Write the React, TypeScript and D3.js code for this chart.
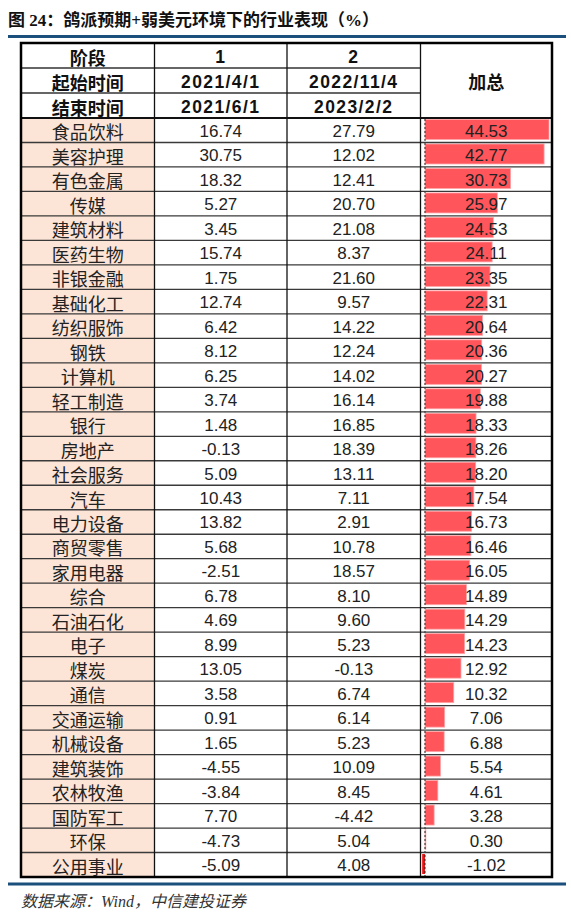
import * as d3 from "d3";

// industry rows, top to bottom
const industries = [
  "食品饮料", "美容护理", "有色金属", "传媒", "建筑材料", "医药生物", "非银金融", "基础化工",
  "纺织服饰", "钢铁", "计算机", "轻工制造", "银行", "房地产", "社会服务", "汽车", "电力设备",
  "商贸零售", "家用电器", "综合", "石油石化", "电子", "煤炭", "通信", "交通运输", "机械设备",
  "建筑装饰", "农林牧渔", "国防军工", "环保", "公用事业",
];
const stage1 = [
  16.74, 30.75, 18.32, 5.27, 3.45, 15.74, 1.75, 12.74, 6.42, 8.12, 6.25, 3.74, 1.48, -0.13, 5.09,
  10.43, 13.82, 5.68, -2.51, 6.78, 4.69, 8.99, 13.05, 3.58, 0.91, 1.65, -4.55, -3.84, 7.7, -4.73, -5.09,
];
const stage2 = [
  27.79, 12.02, 12.41, 20.7, 21.08, 8.37, 21.6, 9.57, 14.22, 12.24, 14.02, 16.14, 16.85, 18.39, 13.11,
  7.11, 2.91, 10.78, 18.57, 8.1, 9.6, 5.23, -0.13, 6.74, 6.14, 5.23, 10.09, 8.45, -4.42, 5.04, 4.08,
];
const totals = [
  44.53, 42.77, 30.73, 25.97, 24.53, 24.11, 23.35, 22.31, 20.64, 20.36, 20.27, 19.88, 18.33, 18.26,
  18.2, 17.54, 16.73, 16.46, 16.05, 14.89, 14.29, 14.23, 12.92, 10.32, 7.06, 6.88, 5.54, 4.61, 3.28,
  0.3, -1.02,
];
const headerRows = [
  ["阶段", "1", "2"],
  ["起始时间", "2021/4/1", "2022/11/4"],
  ["结束时间", "2021/6/1", "2023/2/2"],
];
const totalHeader = "加总";
const title = "图 24：鸽派预期+弱美元环境下的行业表现（%）";
const source = "数据来源：Wind，中信建投证券";

const W = 571, H = 921;
const colX = [21, 154.5, 287, 420.5, 552];
const top = 43, headBottom = 118, bottom = 877;
const CJK = "'Noto Sans CJK SC', sans-serif";
const NUM = "'Liberation Sans', Arial, 'Noto Sans CJK SC', sans-serif";
const BLUE = "#1b4f7c";

export default function App() {
  const y = d3.scaleBand<string>().domain(industries).range([headBottom, bottom]);
  const hy = d3.scaleBand<number>().domain(d3.range(headerRows.length)).range([top, headBottom]);
  const x = d3.scaleLinear().domain([0, d3.max(totals) ?? 1]).range([425, 549]);
  const mid = (i: number) => (colX[i] + colX[i + 1]) / 2;
  const rh = y.bandwidth();

  return (
    <svg width={W} height={H} viewBox={`0 0 ${W} ${H}`} style={{ position: "absolute", left: 0, top: 0, background: "#fff" }}>
      <text x={8} y={26} fontSize={17} fontWeight="bold" fill="#111"
        fontFamily="'Liberation Serif', 'Noto Sans CJK SC', serif">{title}</text>
      <line x1={8} x2={566} y1={36.5} y2={36.5} stroke={BLUE} strokeWidth={3} />

      {/* first-column fill */}
      {industries.map((d) => (
        <rect key={"f" + d} x={colX[0]} y={y(d)} width={colX[1] - colX[0]} height={rh} fill="#fce4d6" />
      ))}

      {/* total bars */}
      {totals.map((v, i) => {
        const y0 = (y(industries[i]) ?? 0) + 1.5;
        const x0 = Math.min(x(0), x(v));
        return (
          <rect key={"b" + i} x={x0} y={y0} width={Math.abs(x(v) - x(0))} height={rh - 4.5}
            fill={v < 0 ? "#ee1111" : "#ff555b"} stroke={v < 0 ? "none" : "#ffa3a6"} strokeWidth={0.8} />
        );
      })}
      <line x1={x(0)} x2={x(0)} y1={headBottom + 1} y2={bottom - 1} stroke="#222" strokeWidth={1} strokeDasharray="2,2" />

      {/* header text */}
      {headerRows.map((row, r) =>
        row.map((t, c) => (
          <text key={"h" + r + c} x={mid(c)} y={(hy(r) ?? 0) + hy.bandwidth() / 2 + 1} textAnchor="middle"
            dominantBaseline="central" fontWeight="bold" fontSize={c === 0 ? 18 : 17.5} letterSpacing={c === 0 ? 0 : 1.4}
            fontFamily={c === 0 ? CJK : NUM} fill="#111">{t}</text>
        ))
      )}
      <text x={mid(3)} y={(top + headBottom) / 2} textAnchor="middle" dominantBaseline="central"
        fontWeight="bold" fontSize={18} fontFamily={CJK} fill="#111">{totalHeader}</text>

      {/* body text */}
      {industries.map((d, i) => {
        const cy = (y(d) ?? 0) + rh / 2 + 1;
        return (
          <g key={"t" + d}>
            <text x={mid(0)} y={cy} textAnchor="middle" dominantBaseline="central" fontSize={18}
              fontFamily={CJK} fill="#222">{d}</text>
            <text x={mid(1)} y={cy} textAnchor="middle" dominantBaseline="central" fontSize={17}
              fontFamily={NUM} fill="#222">{stage1[i].toFixed(2)}</text>
            <text x={mid(2)} y={cy} textAnchor="middle" dominantBaseline="central" fontSize={17}
              fontFamily={NUM} fill="#222">{stage2[i].toFixed(2)}</text>
            <text x={mid(3)} y={cy} textAnchor="middle" dominantBaseline="central" fontSize={17}
              fontFamily={NUM} fill="#222">{totals[i].toFixed(2)}</text>
          </g>
        );
      })}

      {/* grid lines */}
      {headerRows.slice(1).map((_, r) => (
        <line key={"hl" + r} x1={colX[0]} x2={colX[3]} y1={hy(r + 1)} y2={hy(r + 1)} stroke="#333" strokeWidth={1.3} />
      ))}
      <line x1={colX[0]} x2={colX[4]} y1={headBottom} y2={headBottom} stroke="#111" strokeWidth={2} />
      {industries.slice(1).map((d) => (
        <line key={"rl" + d} x1={colX[0]} x2={colX[4]} y1={y(d)} y2={y(d)} stroke="#3a3a3a" strokeWidth={1.3} />
      ))}
      {colX.slice(1, 4).map((cx, i) => (
        <line key={"cl" + i} x1={cx} x2={cx} y1={top} y2={bottom} stroke="#111" strokeWidth={1.3} />
      ))}
      <rect x={colX[0]} y={top} width={colX[4] - colX[0]} height={bottom - top} fill="none" stroke="#000" strokeWidth={2.5} />

      <line x1={8} x2={566} y1={884} y2={884} stroke={BLUE} strokeWidth={3} />
      <text x={21} y={907} fontSize={16} fontStyle="italic" fill="#333"
        fontFamily="'Liberation Serif', 'Noto Sans CJK SC', serif">{source}</text>
    </svg>
  );
}
